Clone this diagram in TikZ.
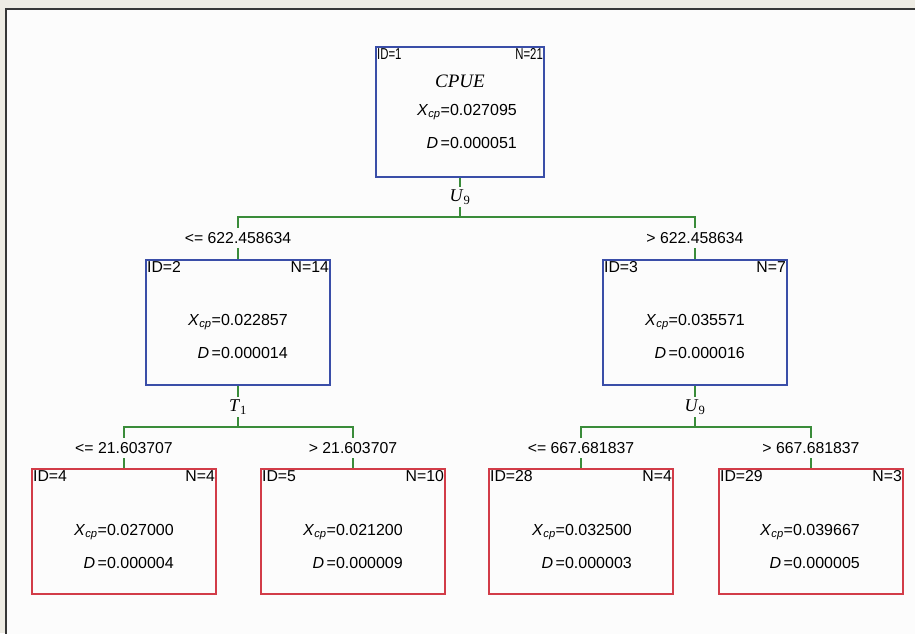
\documentclass[tikz,border=0pt]{standalone}
\usepackage{fontspec}
\setmainfont{Liberation Sans}
\newfontfamily\tnr{Liberation Serif}
\definecolor{boxblue}{RGB}{58,78,168}
\definecolor{boxred}{RGB}{210,60,72}
\definecolor{lgreen}{RGB}{58,140,58}
\definecolor{frameC}{RGB}{55,55,55}
\definecolor{outbg}{RGB}{238,236,228}
\definecolor{inbg}{RGB}{252,252,252}
\newcommand\xcp[1]{\textit{X}\textsubscript{\textit{cp}}=#1}
\newcommand\dval[1]{\textit{D}\,=#1}
\newcommand\narrow[1]{\scalebox{0.72}[1.0]{#1}}
\tikzset{
  tbox/.style={draw, line width=1.7pt, minimum width=184pt, minimum height=125pt, inner sep=0pt},
  bbox/.style={tbox, draw=boxblue},
  rbox/.style={tbox, draw=boxred},
  conn/.style={draw=lgreen, line width=1.6pt},
  cornerL/.style={anchor=north west, inner sep=1.8pt, font=\fontsize{15.8}{16}\selectfont},
  cornerR/.style={anchor=north east, inner sep=1.8pt, font=\fontsize{15.8}{16}\selectfont},
  val/.style={anchor=east, inner sep=0pt, font=\fontsize{16}{16}\selectfont},
  splitlab/.style={font=\fontsize{15.8}{16}\selectfont, minimum height=20pt, inner sep=0pt},
  varlab/.style={font=\tnr\fontsize{18}{18}\selectfont, minimum height=20pt, inner sep=0pt},
}
\begin{document}
\begin{tikzpicture}[x=1pt,y=-1pt]
\useasboundingbox (0,0) rectangle (915,633);
\clip (0,0) rectangle (915,633);
\fill[outbg] (0,0) rectangle (915,633);
\fill[inbg] (6,9) rectangle (925,645);
\draw[frameC, line width=1.8pt] (6,645) -- (6,9) -- (925,9);

% boxes
\node[bbox, minimum width=168pt, minimum height=130pt] (n1) at (460,112) {};
\node[bbox] (n2) at (238,322.5) {};
\node[bbox] (n3) at (695,322.5) {};
\node[rbox] (n4) at (124,531.5) {};
\node[rbox] (n5) at (353,531.5) {};
\node[rbox] (n28) at (581,531.5) {};
\node[rbox] (n29) at (811,531.5) {};

% root texts
\node[cornerL] (id1) at (n1.north west) {\narrow{ID=1}};
\node[cornerR] (c1) at (n1.north east) {\narrow{N=21}};
\node[font=\tnr\itshape\fontsize{19}{19}\selectfont] (cpue) at (460,81) {CPUE};
\node[val] (x1) at (517,112) {\xcp{0.027095}};
\node[val] (d1) at (517,143) {\dval{0.000051}};

% node 2
\node[cornerL] (id2) at (n2.north west) {ID=2};
\node[cornerR] (c2) at (n2.north east) {N=14};
\node[val] (x2) at (288,322) {\xcp{0.022857}};
\node[val] (d2) at (288,353) {\dval{0.000014}};

% node 3
\node[cornerL] (id3) at (n3.north west) {ID=3};
\node[cornerR] (c3) at (n3.north east) {N=7};
\node[val] (x3) at (745,322) {\xcp{0.035571}};
\node[val] (d3) at (745,353) {\dval{0.000016}};

% leaves
\node[cornerL] (id4) at (n4.north west) {ID=4};
\node[cornerR] (c4) at (n4.north east) {N=4};
\node[val] (x4) at (174,532) {\xcp{0.027000}};
\node[val] (d4) at (174,563) {\dval{0.000004}};

\node[cornerL] (id5) at (n5.north west) {ID=5};
\node[cornerR] (c5) at (n5.north east) {N=10};
\node[val] (x5) at (403,532) {\xcp{0.021200}};
\node[val] (d5) at (403,563) {\dval{0.000009}};

\node[cornerL] (id28) at (n28.north west) {ID=28};
\node[cornerR] (c28) at (n28.north east) {N=4};
\node[val] (x28) at (632,532) {\xcp{0.032500}};
\node[val] (d28) at (632,563) {\dval{0.000003}};

\node[cornerL] (id29) at (n29.north west) {ID=29};
\node[cornerR] (c29) at (n29.north east) {N=3};
\node[val] (x29) at (860,532) {\xcp{0.039667}};
\node[val] (d29) at (860,563) {\dval{0.000005}};

% split variables
\node[varlab] (s1) at (460,197) {\textit{U}\textsubscript{9}};
\node[varlab] (s2) at (238,407) {\textit{T}\textsubscript{1}};
\node[varlab] (s3) at (695,407) {\textit{U}\textsubscript{9}};

% split conditions
\node[splitlab] (l2) at (238,238) {<= 622.458634};
\node[splitlab] (l3) at (695,238) {> 622.458634};
\node[splitlab] (l4) at (124,448) {<= 21.603707};
\node[splitlab] (l5) at (353,448) {> 21.603707};
\node[splitlab] (l28) at (581,448) {<= 667.681837};
\node[splitlab] (l29) at (811,448) {> 667.681837};

\coordinate (h1) at (460,217);
\coordinate (h2) at (238,427);
\coordinate (h3) at (695,427);

% connectors
\draw[conn] (n1.south) -- (s1.north);
\draw[conn] (s1.south) -- (h1);
\draw[conn] (l2.north) -- (l2.north |- h1) -- (l3.north |- h1) -- (l3.north);
\draw[conn] (l2.south) -- (n2.north);
\draw[conn] (l3.south) -- (n3.north);

\draw[conn] (n2.south) -- (s2.north);
\draw[conn] (s2.south) -- (h2);
\draw[conn] (l4.north) -- (l4.north |- h2) -- (l5.north |- h2) -- (l5.north);
\draw[conn] (l4.south) -- (n4.north);
\draw[conn] (l5.south) -- (n5.north);

\draw[conn] (n3.south) -- (s3.north);
\draw[conn] (s3.south) -- (h3);
\draw[conn] (l28.north) -- (l28.north |- h3) -- (l29.north |- h3) -- (l29.north);
\draw[conn] (l28.south) -- (n28.north);
\draw[conn] (l29.south) -- (n29.north);
\end{tikzpicture}
\end{document}
